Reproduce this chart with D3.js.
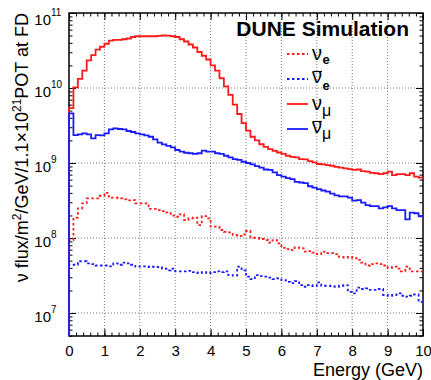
<!DOCTYPE html>
<html>
<head>
<meta charset="utf-8">
<script src="https://cdn.jsdelivr.net/npm/d3@7/dist/d3.min.js"></script>
<style>
  body { margin: 0; background: #fff; }
  text { font-family: "Liberation Sans", Arial, sans-serif; }
</style>
</head>
<body>
<script>
// flux per 0.125 GeV bin, 0 - 10 GeV
var binWidth = 0.125;

var nueFlux = [9.4e7, 1.87e8, 2.49e8, 2.9e8, 3.38e8, 3.38e8, 3.38e8, 3.66e8, 4.0e8, 3.45e8,
  3.45e8, 3.38e8, 3.28e8, 3.18e8, 3.21e8, 2.9e8, 2.9e8, 2.9e8, 2.44e8, 2.44e8,
  2.36e8, 2.29e8, 2.2e8, 1.99e8, 1.92e8, 2.07e8, 1.74e8, 1.83e8, 1.87e8, 1.49e8,
  1.96e8, 1.83e8, 1.42e8, 1.42e8, 1.28e8, 1.21e8, 1.19e8, 1.1e8, 1.07e8, 1.12e8,
  1.24e8, 1.01e8, 1.0e8, 9.7e7, 9.4e7, 8.7e7, 9.4e7, 8.5e7, 7.4e7, 7.1e7,
  6.9e7, 7.5e7, 7.3e7, 6.6e7, 6.7e7, 6.4e7, 6.1e7, 6.6e7, 6.3e7, 6.3e7,
  6.1e7, 5.6e7, 5.5e7, 5.6e7, 5.4e7, 5.1e7, 4.7e7, 4.3e7, 4.5e7, 4.6e7,
  4.5e7, 4.3e7, 4.0e7, 4.15e7, 3.9e7, 3.6e7, 4.15e7, 3.6e7, 3.6e7, 3.6e7];

var nuebarFlux = [4.4e7, 4.4e7, 4.9e7, 4.9e7, 4.6e7, 4.5e7, 4.3e7, 4.3e7, 4.3e7, 4.2e7,
  4.6e7, 4.4e7, 4.7e7, 4.6e7, 4.4e7, 4.15e7, 4.2e7, 4.2e7, 4.1e7, 4.15e7,
  4.1e7, 3.9e7, 3.7e7, 3.9e7, 3.6e7, 3.6e7, 3.6e7, 3.65e7, 3.5e7, 3.4e7,
  3.5e7, 3.4e7, 3.5e7, 3.6e7, 3.5e7, 3.6e7, 3.2e7, 3.15e7, 4.15e7, 3.7e7,
  3.05e7, 2.84e7, 3.2e7, 3.1e7, 3.05e7, 2.96e7, 2.84e7, 2.9e7, 2.75e7, 2.6e7,
  2.5e7, 2.67e7, 2.36e7, 2.24e7, 2.36e7, 2.29e7, 2.56e7, 2.31e7, 2.31e7, 2.29e7,
  2.24e7, 2.31e7, 2.36e7, 1.92e7, 1.83e7, 2.18e7, 2.09e7, 2.13e7, 2.03e7, 2.03e7,
  2.09e7, 1.74e7, 1.7e7, 1.74e7, 1.83e7, 1.7e7, 1.65e7, 1.7e7, 1.77e7, 1.41e7];

var numuFlux = [5.4e9, 1.02e10, 1.32e10, 1.7e10, 2.34e10, 2.75e10, 3.24e10, 3.55e10, 3.89e10, 4.27e10,
  4.37e10, 4.37e10, 4.47e10, 4.57e10, 4.79e10, 4.9e10, 4.9e10, 4.9e10, 4.9e10, 4.9e10,
  4.95e10, 5.01e10, 5.0e10, 4.9e10, 4.79e10, 4.47e10, 4.17e10, 3.8e10, 3.47e10, 3.02e10,
  2.69e10, 2.4e10, 2.0e10, 1.7e10, 1.35e10, 1.05e10, 8.1e9, 6.0e9, 4.5e9, 3.4e9,
  2.7e9, 2.24e9, 2.0e9, 1.78e9, 1.64e9, 1.53e9, 1.45e9, 1.38e9, 1.32e9, 1.25e9,
  1.21e9, 1.19e9, 1.13e9, 1.12e9, 1.06e9, 1.02e9, 9.7e8, 9.6e8, 9.4e8, 9.2e8,
  8.9e8, 8.7e8, 8.5e8, 8.3e8, 8.1e8, 8.2e8, 7.8e8, 7.7e8, 7.4e8, 7.3e8,
  7.1e8, 7.3e8, 7.7e8, 6.9e8, 7.1e8, 7.1e8, 6.9e8, 7.3e8, 6.6e8, 6.4e8];

var numubarFlux = [4.6e9, 2.36e9, 2.41e9, 2.49e9, 2.41e9, 2.13e9, 2.36e9, 2.34e9, 2.49e9, 2.81e9,
  2.9e9, 2.84e9, 2.81e9, 2.67e9, 2.59e9, 2.49e9, 2.41e9, 2.34e9, 2.24e9, 2.07e9,
  1.87e9, 1.77e9, 1.69e9, 1.62e9, 1.49e9, 1.42e9, 1.37e9, 1.35e9, 1.32e9, 1.35e9,
  1.46e9, 1.42e9, 1.42e9, 1.35e9, 1.32e9, 1.25e9, 1.19e9, 1.13e9, 1.1e9, 1.04e9,
  1.0e9, 9.6e8, 9.1e8, 8.7e8, 8.2e8, 8.1e8, 7.5e8, 6.9e8, 6.6e8, 6.3e8,
  6.1e8, 5.6e8, 5.5e8, 5.4e8, 4.9e8, 4.7e8, 4.5e8, 4.3e8, 4.15e8, 3.9e8,
  3.7e8, 3.6e8, 3.6e8, 3.45e8, 3.15e8, 3.2e8, 2.96e8, 2.75e8, 2.67e8, 2.67e8,
  2.49e8, 2.56e8, 2.67e8, 2.49e8, 2.36e8, 2.36e8, 1.77e8, 2.18e8, 2.14e8, 1.95e8];

var xTicks = [0, 1, 2, 3, 4, 5, 6, 7, 8, 9, 10];
var yTicks = [1e7, 1e8, 1e9, 1e10, 1e11];
var yExp = ["7", "8", "9", "10", "11"];

var series = [
  { values: nueFlux, color: "#ff1a1a", dash: "2.5,2.5", bar: false, sub: "e" },
  { values: nuebarFlux, color: "#1a1aff", dash: "2.5,2.5", bar: true, sub: "e" },
  { values: numuFlux, color: "#ff1a1a", dash: null, bar: false, sub: "\u03bc" },
  { values: numubarFlux, color: "#1a1aff", dash: null, bar: true, sub: "\u03bc" }
];

var W = 431, H = 380;
var pL = 69, pR = 423, pT = 13, pB = 336;

var svg = d3.select("body").append("svg").attr("width", W).attr("height", H);

var x = d3.scaleLinear().domain([0, 10]).range([pL, pR]);
var y = d3.scaleLog().domain([4.94e6, 1e11]).range([pB, pT]);

// grid
var grid = svg.append("g").attr("stroke", "#777").attr("stroke-width", 1).attr("stroke-dasharray", "1,2");
grid.selectAll(".gx").data(xTicks.slice(1, -1)).enter().append("line")
  .attr("x1", function (d) { return x(d); }).attr("x2", function (d) { return x(d); })
  .attr("y1", pT).attr("y2", pB);
grid.selectAll(".gy").data(yTicks.slice(0, -1)).enter().append("line")
  .attr("x1", pL).attr("x2", pR)
  .attr("y1", function (d) { return y(d); }).attr("y2", function (d) { return y(d); });

// frame (histograms are drawn over it, as in ROOT)
svg.append("rect").attr("x", pL).attr("y", pT).attr("width", pR - pL).attr("height", pB - pT)
  .attr("fill", "none").attr("stroke", "#000").attr("stroke-width", 1.5);

// ticks, inside on all four sides
var xMinor = d3.range(0, 10.001, 0.2);
var yMinor = [];
[1e6, 1e7, 1e8, 1e9, 1e10].forEach(function (dec) {
  for (var k = 2; k <= 9; k++) if (dec * k > y.domain()[0]) yMinor.push(dec * k);
});

function tickAxis(axis, tx, ty) {
  var g = svg.append("g").attr("transform", "translate(" + tx + "," + ty + ")").call(axis);
  g.select(".domain").remove();
  return g;
}
tickAxis(d3.axisBottom(x).tickValues(xTicks).tickSize(-7).tickFormat(""), 0, pB);
tickAxis(d3.axisBottom(x).tickValues(xMinor).tickSize(-3.5).tickFormat(""), 0, pB);
tickAxis(d3.axisTop(x).tickValues(xTicks).tickSize(-7).tickFormat(""), 0, pT);
tickAxis(d3.axisTop(x).tickValues(xMinor).tickSize(-3.5).tickFormat(""), 0, pT);
tickAxis(d3.axisLeft(y).tickValues(yTicks).tickSize(-7).tickFormat(""), pL, 0);
tickAxis(d3.axisLeft(y).tickValues(yMinor).tickSize(-3.5).tickFormat(""), pL, 0);
tickAxis(d3.axisRight(y).tickValues(yTicks).tickSize(-7).tickFormat(""), pR, 0);
tickAxis(d3.axisRight(y).tickValues(yMinor).tickSize(-3.5).tickFormat(""), pR, 0);

// histograms
svg.append("clipPath").attr("id", "plot").append("rect")
  .attr("x", pL - 1).attr("y", pT).attr("width", pR - pL + 1).attr("height", pB - pT);

var line = d3.line().curve(d3.curveStepAfter)
  .x(function (d) { return x(d[0]); }).y(function (d) { return y(d[1]); });

series.forEach(function (s) {
  var pts = [[0, y.domain()[0]]];
  s.values.forEach(function (v, i) { pts.push([i * binWidth, v]); });
  pts.push([s.values.length * binWidth, s.values[s.values.length - 1]]);
  svg.append("path").attr("d", line(pts))
    .attr("clip-path", "url(#plot)")
    .attr("fill", "none").attr("stroke", s.color).attr("stroke-width", 1.8)
    .attr("stroke-dasharray", s.dash);
});

// x tick labels
var xl = tickAxis(d3.axisBottom(x).tickValues(xTicks).tickSize(0).tickPadding(9.5).tickFormat(d3.format("d")), 0, pB);
xl.selectAll("text").attr("font-size", 15).attr("font-family", "Liberation Sans, Arial, sans-serif").attr("fill", "#000");

// y tick labels 10^n
yTicks.forEach(function (v, i) {
  var base = Math.max(y(v) + 9, 25);
  svg.append("text").attr("x", 51).attr("y", base).attr("text-anchor", "end")
    .attr("font-size", 15).text("10");
  svg.append("text").attr("x", 51).attr("y", base - 9)
    .attr("font-size", 10).text(yExp[i]);
});

// axis titles
svg.append("text").attr("x", pR).attr("y", 376).attr("text-anchor", "end")
  .attr("font-size", 18).text("Energy (GeV)");

var yt = svg.append("text").attr("transform", "translate(28," + pT + ") rotate(-90)")
  .attr("text-anchor", "end").attr("font-size", 18);
yt.append("tspan").text("\u03bd flux/m");
yt.append("tspan").attr("font-size", 12).attr("dy", -7).text("2");
yt.append("tspan").attr("dy", 7).text("/GeV/1.1\u00d710");
yt.append("tspan").attr("font-size", 12).attr("dy", -7).text("21");
yt.append("tspan").attr("dy", 7).text("POT at FD");

svg.append("text").attr("x", 409).attr("y", 36).attr("text-anchor", "end")
  .attr("font-size", 21).attr("font-weight", "bold").text("DUNE Simulation");

// legend
var legendY = [54, 79, 104, 129];
series.forEach(function (s, i) {
  var ly = legendY[i];
  svg.append("line").attr("x1", 287).attr("x2", 308).attr("y1", ly).attr("y2", ly)
    .attr("stroke", s.color).attr("stroke-width", 1.8).attr("stroke-dasharray", s.dash);
  var nb = ly + (s.bar ? 3.5 : 6);
  svg.append("text").attr("x", 312).attr("y", nb)
    .attr("font-family", "Liberation Serif, serif").attr("font-size", 20).text("\u03bd");
  if (s.bar) {
    svg.append("line").attr("x1", 312.5).attr("x2", 322).attr("y1", nb - 11).attr("y2", nb - 11)
      .attr("stroke", "#000").attr("stroke-width", 1.2);
  }
  if (s.sub === "e") {
    svg.append("text").attr("x", 322.5).attr("y", nb + (s.bar ? 7 : 4))
      .attr("font-size", 13).attr("font-weight", "bold").text("e");
  } else {
    svg.append("text").attr("x", 322).attr("y", nb + 6)
      .attr("font-family", "Liberation Serif, serif").attr("font-size", 16).text(s.sub);
  }
});
</script>
</body>
</html>
